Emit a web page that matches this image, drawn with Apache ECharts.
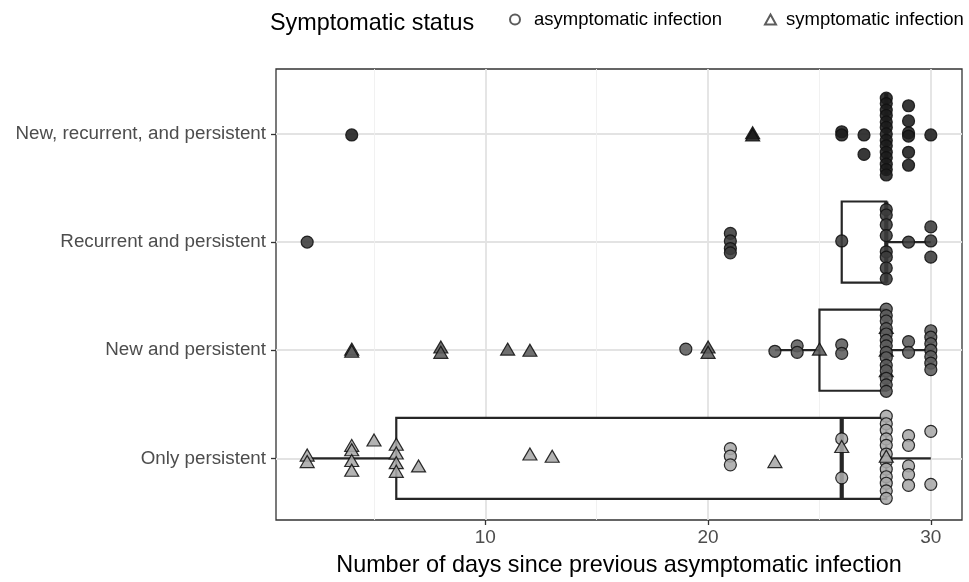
<!DOCTYPE html>
<html>
<head>
<meta charset="utf-8">
<script src="https://cdn.jsdelivr.net/npm/echarts@6/dist/echarts.min.js"></script>
<style>
    html, body {margin: 0; padding: 0; background: #fff;}
    #chart {width: 969px; height: 582px;}
</style>
</head>
<body>
<div id="chart"></div>
<script>
// categories bottom -> top
const categories = ['Only persistent', 'New and persistent', 'Recurrent and persistent', 'New, recurrent, and persistent'];
const xTicks = [10, 20, 30];
const xMinorTicks = [5, 15, 25];
const groupFill = ['#a9a9a9', '#5c5c5c', '#3b3b3b', '#1c1c1c'];

// box stats: min, Q1, median, Q3, max
const boxStats = [
    [2, 6, 26, 28, 30],
    [23, 25, 28, 28, 30],
    [26, 26, 28, 28, 30],
    [28, 28, 28, 28, 28]
];

// points: days, vertical jitter (category units), symptomatic flag (1 = triangle)
const onlyDays = [21, 21, 21, 26, 26, 28, 28, 28, 28, 28, 28, 28, 28, 28, 28, 28, 28, 29, 29, 29, 29, 29, 30, 30,
    2, 2, 4, 4, 4, 4, 5, 6, 6, 6, 6, 7, 12, 13, 23, 26, 28];
const onlyJit = [0.09, 0.02, -0.06, 0.18, -0.18, 0.39, 0.32, 0.26, 0.18, 0.12, 0.04, -0.03, -0.10, -0.17, -0.23, -0.30, -0.37, 0.21, 0.12, -0.07, -0.15, -0.25, 0.25, -0.24,
    0.03, -0.03, 0.12, 0.08, -0.02, -0.11, 0.17, 0.13, 0.05, -0.04, -0.12, -0.07, 0.04, 0.02, -0.03, 0.11, 0.02];
const onlySym = [0, 0, 0, 0, 0, 0, 0, 0, 0, 0, 0, 0, 0, 0, 0, 0, 0, 0, 0, 0, 0, 0, 0, 0,
    1, 1, 1, 1, 1, 1, 1, 1, 1, 1, 1, 1, 1, 1, 1, 1, 1];

const newDays = [4, 4, 8, 8, 11, 12, 20, 20, 28, 28, 28,
    19, 23, 24, 24, 26, 26, 28, 28, 28, 28, 28, 28, 28, 28, 28, 28, 28, 28, 28, 28, 29, 29, 30, 30, 30, 30, 30, 30, 30, 25];
const newJit = [0.01, -0.01, 0.03, -0.02, 0.01, 0.0, 0.03, -0.02, 0.21, 0.0, -0.19,
    0.01, -0.01, 0.04, -0.02, 0.05, -0.03, 0.38, 0.32, 0.27, 0.20, 0.15, 0.09, 0.04, -0.02, -0.07, -0.14, -0.19, -0.26, -0.32, -0.38, 0.08, -0.02, 0.18, 0.12, 0.06, 0.0, -0.06, -0.12, -0.18, 0.01];
const newSym = [1, 1, 1, 1, 1, 1, 1, 1, 1, 1, 1,
    0, 0, 0, 0, 0, 0, 0, 0, 0, 0, 0, 0, 0, 0, 0, 0, 0, 0, 0, 0, 0, 0, 0, 0, 0, 0, 0, 0, 0, 1];

const recDays = [2, 21, 21, 21, 21, 26, 28, 28, 28, 28, 28, 28, 28, 28, 29, 30, 30, 30];
const recJit = [0.0, 0.08, 0.01, -0.06, -0.10, 0.01, 0.30, 0.25, 0.16, 0.06, -0.09, -0.14, -0.24, -0.34, 0.0, 0.14, 0.01, -0.14];
const recSym = [0, 0, 0, 0, 0, 0, 0, 0, 0, 0, 0, 0, 0, 0, 0, 0, 0, 0];

const allDays = [4, 26, 26, 27, 27, 28, 28, 28, 28, 28, 28, 28, 28, 28, 28, 28, 28, 28, 28, 29, 29, 29, 29, 29, 29, 30, 22, 22];
const allJit = [-0.01, 0.02, -0.01, -0.01, -0.19, 0.33, 0.28, 0.22, 0.17, 0.11, 0.06, 0.0, -0.06, -0.11, -0.17, -0.22, -0.28, -0.33, -0.38, 0.26, 0.12, 0.01, -0.02, -0.17, -0.29, -0.01, 0.01, -0.01];
const allSym = [0, 0, 0, 0, 0, 0, 0, 0, 0, 0, 0, 0, 0, 0, 0, 0, 0, 0, 0, 0, 0, 0, 0, 0, 0, 0, 1, 1];

const groups = [
    [onlyDays, onlyJit, onlySym],
    [newDays, newJit, newSym],
    [recDays, recJit, recSym],
    [allDays, allJit, allSym]
];

const labelColor = '#4d4d4d';
const lineColor = '#262626';

function pointSeries(g, idx) {
    let data = [];
    for (let i = 0; i < g[0].length; i++) {
        let tri = g[2][i] === 1;
        data.push({
            value: [g[0][i], idx + 1 + g[1][i]],
            symbol: tri ? 'triangle' : 'circle',
            symbolSize: tri ? [14, 12] : 12
        });
    }
    return {
        type: 'scatter',
        name: categories[idx],
        data: data,
        z: 3,
        itemStyle: {color: groupFill[idx], opacity: 0.88, borderColor: '#111', borderWidth: 1.2}
    };
}

let boxRows = boxStats.map((b, i) => [i + 1].concat(b));

let series = [{
    type: 'custom',
    name: 'box',
    z: 2,
    encode: {x: [1, 2, 3, 4, 5], y: 0},
    data: boxRows,
    renderItem: function (params, api) {
        let c = api.value(0);
        let half = api.size([0, 0.375])[1];
        let pMin = api.coord([api.value(1), c]);
        let pQ1 = api.coord([api.value(2), c]);
        let pMed = api.coord([api.value(3), c]);
        let pQ3 = api.coord([api.value(4), c]);
        let pMax = api.coord([api.value(5), c]);
        let st = {stroke: lineColor, lineWidth: 2.2, fill: null};
        return {
            type: 'group',
            children: [
                {type: 'line', shape: {x1: pMin[0], y1: pMin[1], x2: pQ1[0], y2: pQ1[1]}, style: st},
                {type: 'line', shape: {x1: pQ3[0], y1: pQ3[1], x2: pMax[0], y2: pMax[1]}, style: st},
                {type: 'rect', shape: {x: pQ1[0], y: pQ1[1] - half, width: pQ3[0] - pQ1[0], height: half * 2},
                    style: {stroke: lineColor, lineWidth: 2.2, fill: '#ffffff'}},
                {type: 'line', shape: {x1: pMed[0], y1: pMed[1] - half, x2: pMed[0], y2: pMed[1] + half},
                    style: {stroke: lineColor, lineWidth: 4.2}}
            ]
        };
    }
}];
groups.forEach((g, i) => series.push(pointSeries(g, i)));

// empty series, only for the legend keys
series.push({type: 'scatter', name: 'asymptomatic infection', data: [], symbol: 'circle',
    itemStyle: {color: 'rgba(0,0,0,0)', borderColor: '#333', borderWidth: 1.2}});
series.push({type: 'scatter', name: 'symptomatic infection', data: [], symbol: 'triangle',
    itemStyle: {color: 'rgba(0,0,0,0)', borderColor: '#333', borderWidth: 1.2}});

let legendText = {fontSize: 18.5, color: '#000', fontFamily: 'Liberation Sans'};

let chart = echarts.init(document.getElementById('chart'));
chart.setOption({
    animation: false,
    backgroundColor: '#ffffff',
    textStyle: {fontFamily: 'Liberation Sans'},
    title: {
        text: 'Symptomatic status',
        left: 265,
        top: 7,
        textStyle: {fontSize: 23.4, fontWeight: 'normal', color: '#000', fontFamily: 'Liberation Sans'}
    },
    legend: [{
        left: 509,
        top: 10,
        padding: 0,
        itemWidth: 10,
        itemHeight: 10,
        selectedMode: false,
        data: [{name: 'asymptomatic infection', icon: 'circle', textStyle: {padding: [0, 0, 0, 9]}}],
        textStyle: legendText
    }, {
        left: 764,
        top: 10,
        padding: 0,
        itemWidth: 11,
        itemHeight: 10,
        selectedMode: false,
        data: [{name: 'symptomatic infection', icon: 'triangle', textStyle: {padding: [0, 0, 0, 5]}}],
        textStyle: legendText
    }],
    grid: {
        left: 276,
        right: 7,
        top: 69,
        bottom: 60,
        show: true,
        borderColor: '#333333',
        borderWidth: 1.3,
        backgroundColor: 'transparent'
    },
    xAxis: [{
        type: 'value',
        min: 0.6,
        max: 31.4,
        name: 'Number of days since previous asymptomatic infection',
        nameLocation: 'middle',
        nameGap: 34,
        nameTextStyle: {fontSize: 23.4, color: '#000', fontFamily: 'Liberation Sans'},
        axisLine: {show: false},
        axisTick: {show: true, length: 5, customValues: xTicks, lineStyle: {color: '#333', width: 1.3}},
        axisLabel: {customValues: xTicks, margin: 8, fontSize: 19, color: labelColor},
        splitLine: {show: true, lineStyle: {color: '#e3e3e3', width: 1.8}}
    }, {
        type: 'value',
        min: 0.6,
        max: 31.4,
        position: 'bottom',
        axisLine: {show: false},
        axisTick: {show: false, customValues: xMinorTicks},
        axisLabel: {show: false, customValues: xMinorTicks},
        splitLine: {show: true, lineStyle: {color: '#efefef', width: 0.9}}
    }],
    yAxis: {
        type: 'value',
        min: 0.43,
        max: 4.6,
        axisLine: {show: false},
        axisTick: {show: true, length: 5, customValues: [1, 2, 3, 4], lineStyle: {color: '#333', width: 1.3}},
        axisLabel: {
            customValues: [1, 2, 3, 4],
            margin: 10,
            fontSize: 18.8,
            color: labelColor,
            padding: [3, 0, 0, 0],
            formatter: v => categories[Math.round(v) - 1]
        },
        splitLine: {show: true, lineStyle: {color: '#e3e3e3', width: 1.8}}
    },
    series: series
});
</script>
</body>
</html>
